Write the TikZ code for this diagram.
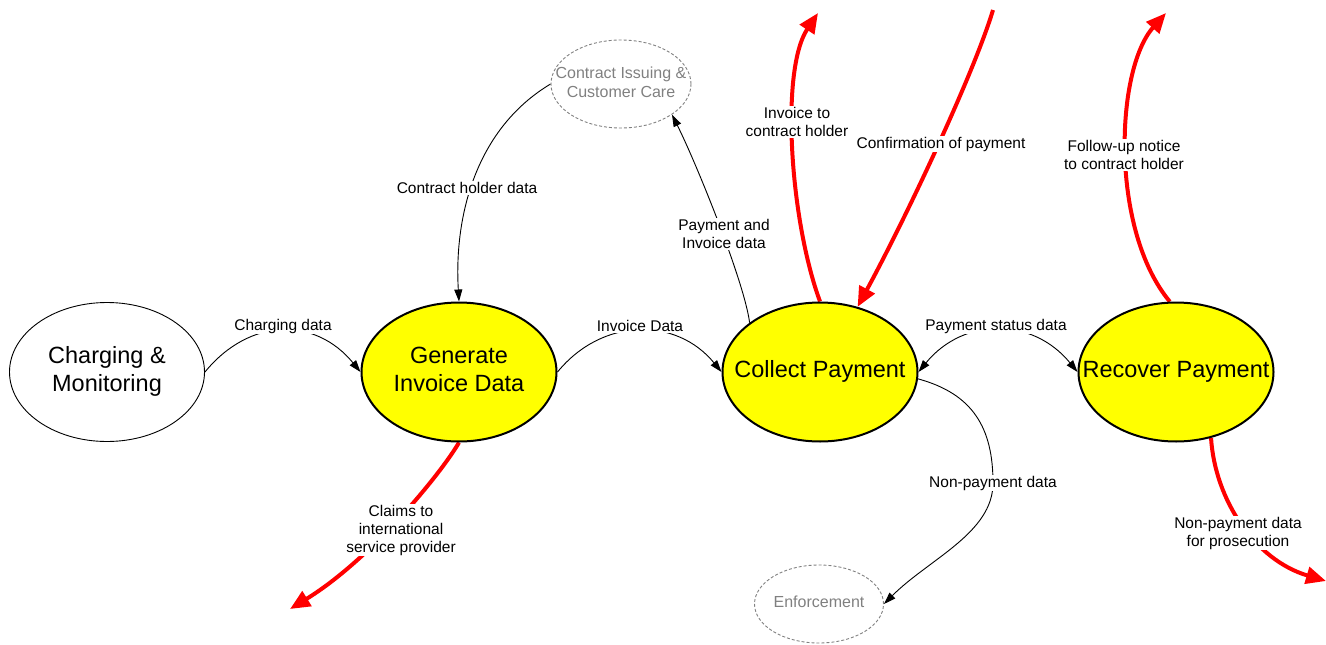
\documentclass[tikz,border=0pt]{standalone}
\usepackage{fontspec}
\setmainfont{Liberation Sans}
\usetikzlibrary{shapes.geometric,arrows.meta}
\pgfdeclarelayer{background}
\pgfsetlayers{background,main}
\definecolor{procyellow}{RGB}{255,255,0}
\definecolor{ghostgray}{RGB}{128,128,128}
\newcommand{\zb}[1]{\makebox[0pt][c]{\raisebox{-2pt}{\begin{tabular}{@{}c@{}}#1\end{tabular}}}}
\begin{document}
\begin{tikzpicture}[x=1pt,y=-1pt,
  proc/.style={ellipse, draw=black, line width=2pt, fill=procyellow, inner sep=0pt,
    minimum width=195pt, minimum height=139pt,
    font=\fontsize{23.5}{28}\selectfont},
  extproc/.style={proc, line width=0.9pt, fill=white},
  ghost/.style={ellipse, draw=ghostgray, line width=0.9pt, dash pattern=on 3pt off 2pt,
    text=ghostgray, inner sep=0pt, font=\fontsize{16}{19}\selectfont},
  lbl/.style={fill=white, inner sep=1pt, align=center, font=\fontsize{15.5}{18}\selectfont},
  flow/.style={line width=0.9pt, -{Triangle[length=12pt,width=8pt]}},
  flowboth/.style={line width=0.9pt, {Triangle[length=12pt,width=8pt]}-{Triangle[length=12pt,width=8pt]}},
  redflow/.style={red, line width=4pt, -{Triangle[length=20pt,width=17pt]}}
]
\useasboundingbox (0,0) rectangle (1326,645);

% process nodes
\node[extproc] (cm)  at (107,372) {\zb{Charging \&\\Monitoring}};
\node[proc]    (gid) at (459,372) {\zb{Generate\\Invoice Data}};
\node[proc]    (cp)  at (820,372) {\zb{Collect Payment}};
\node[proc]    (rp)  at (1176,372) {\zb{Recover Payment}};
\node[ghost, minimum width=140pt, minimum height=88pt] (cic) at (621,84) {\zb{Contract Issuing \&\\Customer Care}};
\node[ghost, minimum width=129pt, minimum height=78pt] (enf) at (819,604) {\zb{Enforcement}};

% free ends
\coordinate (ichEnd) at (818,13);
\coordinate (copStart) at (993,10);
\coordinate (funEnd) at (1166,13);
\coordinate (npfEnd) at (1326,581);
\coordinate (claEnd) at (290,609);

% labels
\node[lbl] (l1) at (283,326) {Charging data};
\node[lbl] (l2) at (640,326) {Invoice Data};
\node[lbl] (l3) at (996,326) {Payment status data};
\node[lbl] (l4) at (467,188) {Contract holder data};
\node[lbl] (l5) at (724,234) {Payment and\\Invoice data};
\node[lbl] (l6) at (797,122) {Invoice to\\contract holder};
\node[lbl] (l7) at (941,144) {Confirmation of payment};
\node[lbl] (l8) at (1124,155) {Follow-up notice\\to contract holder};
\node[lbl] (l9) at (993,483) {Non-payment data};
\node[lbl] (l10) at (1238,533) {Non-payment data\\for prosecution};
\node[lbl] (l11) at (401,530) {Claims to\\international\\service provider};

\begin{pgfonlayer}{background}
% black flows
\draw[flow] (cm.east) .. controls +(45,-55) and +(-45,-55) .. (gid.west);
\draw[flow] (gid.east) .. controls +(45,-55) and +(-45,-55) .. (cp.west);
\draw[flowboth] (cp.east) .. controls +(45,-55) and +(-45,-55) .. (rp.west);
\draw[flow] (cic.west) .. controls +(-75,45) and +(-5,-85) .. (gid.north);
\draw[flow] (cp.145) .. controls +(-5,-40) and +(25,50) .. (cic.-31);
\draw[flow] (cp.-4) .. controls +(55,15) and +(0,-55) .. (l9.center)
  .. controls +(0,50) and +(45,-45) .. (enf.east);
% red flows
\draw[redflow] (cp.north) .. controls (790,220) and (780,70) .. (ichEnd);
\draw[redflow] (copStart) .. controls (975,70) and (910,210) .. (cp.60);
\draw[redflow] (rp.95) .. controls (1110,230) and (1115,70) .. (funEnd);
\draw[redflow] (rp.-62) .. controls (1215,500) and (1255,560) .. (npfEnd);
\draw[redflow] (gid.south) .. controls (440,475) and (370,560) .. (claEnd);
\end{pgfonlayer}
\end{tikzpicture}
\end{document}
